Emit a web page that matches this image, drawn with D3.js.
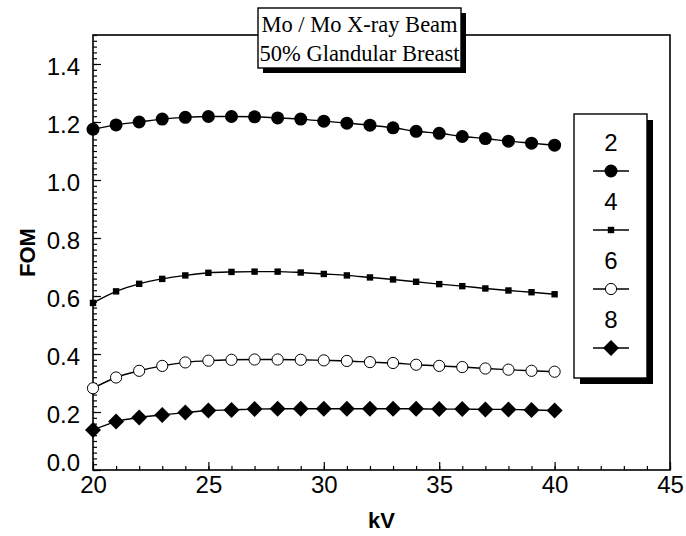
<!DOCTYPE html>
<html>
<head>
<meta charset="utf-8">
<script src="https://cdn.jsdelivr.net/npm/d3@7"></script>
<style>
    body {margin: 0; background: #fff;}
    svg {display: block;}
    .axis text {font-family: "Liberation Sans", Arial, sans-serif; font-size: 24px; fill: #000;}
    .axis line {stroke: #000; stroke-width: 1.2;}
    .axis path.domain {display: none;}
    .frame {fill: none; stroke: #000; stroke-width: 1.6;}
    .line {fill: none; stroke: #000; stroke-width: 1.4;}
    .axis-title {font-family: "Liberation Sans", Arial, sans-serif; font-size: 22px; font-weight: bold;}
    .legend text {font-family: "Liberation Sans", Arial, sans-serif; font-size: 24px;}
    .title-box text {font-family: "Liberation Serif", "Times New Roman", serif; font-size: 22.5px;}
</style>
</head>
<body>
<div id="graphHolder" style="width:686px;height:536px"></div>
<script>
'use strict'
// values
var kvValues = [20, 21, 22, 23, 24, 25, 26, 27, 28, 29, 30, 31, 32, 33, 34, 35, 36, 37, 38, 39, 40];
var fom2 = [1.175, 1.190, 1.200, 1.210, 1.216, 1.219, 1.219, 1.218, 1.214, 1.210, 1.203,
            1.196, 1.189, 1.180, 1.168, 1.161, 1.150, 1.143, 1.134, 1.127, 1.120];
var fom4 = [0.576, 0.616, 0.642, 0.659, 0.671, 0.680, 0.683, 0.684, 0.684, 0.681, 0.676,
            0.671, 0.664, 0.657, 0.649, 0.641, 0.634, 0.626, 0.619, 0.613, 0.606];
var fom6 = [0.282, 0.319, 0.342, 0.359, 0.371, 0.377, 0.380, 0.381, 0.381, 0.380, 0.378,
            0.376, 0.372, 0.369, 0.363, 0.359, 0.355, 0.350, 0.346, 0.342, 0.339];
var fom8 = [0.138, 0.167, 0.181, 0.190, 0.198, 0.205, 0.207, 0.210, 0.211, 0.211, 0.211,
            0.211, 0.211, 0.211, 0.211, 0.210, 0.210, 0.209, 0.209, 0.207, 0.205];
var seriesNames = ["2", "4", "6", "8"];
var seriesMarkers = ["bigDot", "square", "ring", "diamond"];
var xTickValues = [20, 25, 30, 35, 40, 45];
var yTickValues = [0.0, 0.2, 0.4, 0.6, 0.8, 1.0, 1.2, 1.4];
var titleLines = ["Mo / Mo X-ray Beam", "50% Glandular Breast"];
var xTitle = "kV", yTitle = "FOM";

function fomChart() {
    var _chart = {};
    var _margins = {top: 35, left: 93, right: 16, bottom: 66};
    var _width = 686, _height = 536;
    var _svg, _bodyG, _xScale, _yScale;

    _chart.render = function () {
        _svg = d3.select("#graphHolder").append("svg")
                .attr("width", _width)
                .attr("height", _height);

        _xScale = d3.scaleLinear().domain([20, 45]).range([xStart(), xEnd()]);
        _yScale = d3.scaleLinear().domain([0, 1.5]).range([yStart(), yEnd()]);

        renderAxes();
        renderFrame();
        renderSeries();
        renderLegend();
        renderTitleBox();
    };

    function renderAxes() {
        var axesG = _svg.append("g").attr("class", "axes");

        // minor ticks first, then majors with labels
        axesG.append("g")
                .attr("class", "x axis")
                .attr("transform", "translate(0," + yStart() + ")")
                .call(d3.axisBottom(_xScale).tickValues(d3.range(20, 45.01, 1))
                        .tickSize(-4).tickFormat(""));
        axesG.append("g")
                .attr("class", "x axis")
                .attr("transform", "translate(0," + yStart() + ")")
                .call(d3.axisBottom(_xScale).tickValues(xTickValues)
                        .tickSize(-8).tickPadding(6).tickFormat(d3.format("d")));

        axesG.append("g")
                .attr("class", "y axis")
                .attr("transform", "translate(" + xStart() + ",0)")
                .call(d3.axisLeft(_yScale).tickValues(d3.range(0, 1.501, 0.02))
                        .tickSize(-4).tickFormat(""));
        var yAxisG = axesG.append("g")
                .attr("class", "y axis")
                .attr("transform", "translate(" + xStart() + ",0)")
                .call(d3.axisLeft(_yScale).tickValues(yTickValues)
                        .tickSize(-8).tickPadding(13).tickFormat(d3.format(".1f")));
        // zero label sits a bit above the corner in the original
        yAxisG.selectAll("g.tick text")
                .attr("dy", function (d) { return d === 0 ? "0.0em" : "0.45em"; });

        _svg.append("text")
                .attr("class", "axis-title")
                .attr("text-anchor", "middle")
                .attr("transform", "translate(35," + ((yStart() + yEnd()) / 2) + ") rotate(-90)")
                .text(yTitle);

        _svg.append("text")
                .attr("class", "axis-title")
                .attr("text-anchor", "middle")
                .attr("x", (xStart() + xEnd()) / 2)
                .attr("y", 528)
                .text(xTitle);
    }

    function renderFrame() {
        _svg.append("rect")
                .attr("class", "frame")
                .attr("x", xStart())
                .attr("y", yEnd())
                .attr("width", quadrantWidth())
                .attr("height", quadrantHeight());
    }

    function renderSeries() {
        var allSeries = [fom2, fom4, fom6, fom8];
        _bodyG = _svg.append("g").attr("class", "body");

        var line = d3.line()
                .x(function (d, i) { return _xScale(kvValues[i]); })
                .y(function (d) { return _yScale(d); })
                .curve(d3.curveMonotoneX);

        _bodyG.selectAll("path.line")
                .data(allSeries)
                .enter()
                .append("path")
                .attr("class", "line")
                .attr("d", function (d) { return line(d); });

        allSeries.forEach(function (vals, s) {
            var g = _bodyG.append("g").attr("class", "markers s" + s);
            g.selectAll("g.pt")
                    .data(vals)
                    .enter()
                    .append("g")
                    .attr("class", "pt")
                    .attr("transform", function (d, i) {
                        return "translate(" + _xScale(kvValues[i]) + "," + _yScale(d) + ")";
                    })
                    .each(function () { drawMarker(d3.select(this), seriesMarkers[s]); });
        });
    }

    function drawMarker(sel, kind) {
        if (kind === "bigDot") {
            sel.append("circle").attr("r", 6.5).attr("fill", "#000");
        } else if (kind === "square") {
            sel.append("rect").attr("x", -3.2).attr("y", -3.2)
                    .attr("width", 6.4).attr("height", 6.4).attr("fill", "#000");
        } else if (kind === "ring") {
            sel.append("circle").attr("r", 5.6).attr("fill", "#fff")
                    .attr("stroke", "#000").attr("stroke-width", 1);
        } else {
            sel.append("path").attr("d", "M0,-8L8,0L0,8L-8,0Z").attr("fill", "#000");
        }
    }

    function renderLegend() {
        var lg = _svg.append("g").attr("class", "legend");
        var box = {x: 574, y: 114, w: 73, h: 264};

        lg.append("rect")
                .attr("x", box.x + 6).attr("y", box.y + 6)
                .attr("width", box.w).attr("height", box.h)
                .attr("fill", "#000");
        lg.append("rect")
                .attr("x", box.x).attr("y", box.y)
                .attr("width", box.w).attr("height", box.h)
                .attr("fill", "#fff").attr("stroke", "#000").attr("stroke-width", 1.4);

        var items = lg.selectAll("g.item")
                .data(seriesNames)
                .enter()
                .append("g")
                .attr("class", "item")
                .attr("transform", function (d, i) {
                    return "translate(" + (box.x + 37) + "," + (box.y + 28 + i * 59) + ")";
                });

        items.append("text")
                .attr("text-anchor", "middle")
                .attr("dy", "0.36em")
                .text(function (d) { return d; });
        items.append("line")
                .attr("x1", -18).attr("x2", 18)
                .attr("y1", 29).attr("y2", 29)
                .attr("stroke", "#000").attr("stroke-width", 1.4);
        items.append("g")
                .attr("transform", "translate(0,29)")
                .each(function (d, i) { drawMarker(d3.select(this), seriesMarkers[i]); });
    }

    function renderTitleBox() {
        var tb = _svg.append("g").attr("class", "title-box");
        var box = {x: 258, y: 8, w: 203, h: 60};

        tb.append("rect")
                .attr("x", box.x + 5).attr("y", box.y + 5)
                .attr("width", box.w).attr("height", box.h)
                .attr("fill", "#000");
        tb.append("rect")
                .attr("x", box.x).attr("y", box.y)
                .attr("width", box.w).attr("height", box.h)
                .attr("fill", "#fff").attr("stroke", "#000").attr("stroke-width", 1.4);

        tb.selectAll("text")
                .data(titleLines)
                .enter()
                .append("text")
                .attr("text-anchor", "middle")
                .attr("x", box.x + box.w / 2)
                .attr("y", function (d, i) { return box.y + 16 + i * 29; })
                .attr("dy", "0.36em")
                .text(function (d) { return d; });
    }

    function xStart() { return _margins.left; }
    function xEnd() { return _width - _margins.right; }
    function yStart() { return _height - _margins.bottom; }
    function yEnd() { return _margins.top; }
    function quadrantWidth() { return _width - _margins.left - _margins.right; }
    function quadrantHeight() { return _height - _margins.top - _margins.bottom; }

    return _chart;
}

var chart = fomChart();
chart.render();
</script>
</body>
</html>
